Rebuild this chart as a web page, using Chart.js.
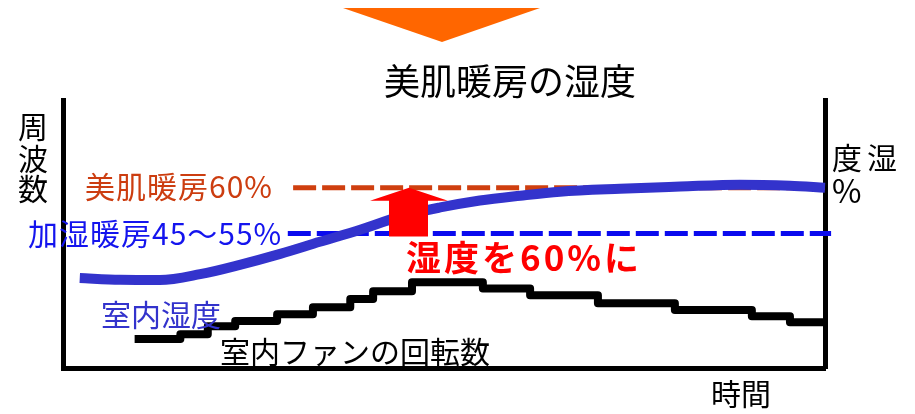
<!DOCTYPE html>
<html lang="ja">

<head>
    <meta charset="UTF-8">
    <meta name="viewport" content="width=device-width, initial-scale=1.0">
    <script src="https://cdn.jsdelivr.net/npm/chart.js"></script>
    <title>美肌暖房の湿度</title>
    <style>
        html, body { margin: 0; padding: 0; background: #fff; }
    </style>
</head>

<body>
    <canvas id="humidityChart" width="915" height="414"></canvas>
    <script>
        // 横軸: 時間 (0〜100), 縦軸: 相対値 (0〜100)
        const humidityTime = [2.2, 7.5, 12.7, 18.0, 23.2, 28.5, 33.7, 39.0, 44.2, 49.5, 54.7, 60.0, 65.2, 73.1, 81.0, 88.8, 95.4, 100];
        const humidityValues = [33.6, 32.9, 32.8, 35.0, 38.5, 42.6, 47.1, 51.6, 56.5, 59.9, 62.5, 64.3, 65.8, 66.9, 67.7, 68.4, 68.0, 67.3];

        const fanTime = [9.4, 15.4, 19.0, 22.6, 28.1, 32.8, 37.7, 40.7, 45.8, 55.1, 61.3, 70.2, 80.3, 90.4, 95.4, 100.3];
        const fanValues = [10.8, 12.6, 15.6, 17.5, 20.1, 22.7, 25.7, 28.6, 32.0, 29.7, 27.1, 24.2, 21.6, 19.3, 17.1, 17.1];

        const bihadaTime = [30.2, 100];
        const bihadaLevel = [67.3, 67.3];
        const kashitsuTime = [29.5, 100.8];
        const kashitsuLevel = [50.2, 50.2];

        const FONT = '"Noto Sans CJK JP", "Noto Sans", sans-serif';

        function toPoints(xs, ys) {
            return xs.map((t, i) => ({ x: t, y: ys[i] }));
        }

        function label(ctx, str, px, py, size, color, align, weight, spacing) {
            ctx.font = (weight || 'normal') + ' ' + size + 'px ' + FONT;
            ctx.fillStyle = color;
            ctx.textAlign = align || 'left';
            ctx.textBaseline = 'middle';
            ctx.letterSpacing = spacing || '0px';
            ctx.fillText(str, px, py);
        }

        // 矢印・三角形・文字
        const overlay = {
            id: 'overlay',
            afterDatasetsDraw(chart) {
                const { ctx, scales: { y } } = chart;
                ctx.save();

                // 上の三角
                ctx.fillStyle = '#ff6600';
                ctx.beginPath();
                ctx.moveTo(343, 8);
                ctx.lineTo(540, 8);
                ctx.lineTo(442, 42);
                ctx.closePath();
                ctx.fill();

                // 赤い矢印 (45〜55% → 60%)
                const ax = 409;
                const top = y.getPixelForValue(bihadaLevel[0]);
                const bottom = y.getPixelForValue(kashitsuLevel[0]) + 3;
                ctx.fillStyle = '#ff0000';
                ctx.beginPath();
                ctx.moveTo(ax, top);
                ctx.lineTo(ax + 39, top + 13);
                ctx.lineTo(ax + 19, top + 13);
                ctx.lineTo(ax + 19, bottom);
                ctx.lineTo(ax - 20, bottom);
                ctx.lineTo(ax - 20, top + 13);
                ctx.lineTo(ax - 39, top + 13);
                ctx.closePath();
                ctx.fill();

                label(ctx, '美肌暖房の湿度', 510, 81, 36, '#000', 'center');

                label(ctx, '美肌暖房60%', 85, y.getPixelForValue(bihadaLevel[0]) - 1, 30, '#cc3d10', 'left', 'normal', '1px');
                label(ctx, '加湿暖房45～55%', 28, y.getPixelForValue(kashitsuLevel[0]), 30, '#1414ee', 'left', 'normal', '1px');
                label(ctx, '湿度を60%に', 406, 258, 35, '#ff0000', 'left', 'bold', '3px');
                label(ctx, '室内湿度', 101, 315, 30, '#3333cc');
                label(ctx, '室内ファンの回転数', 220, 352, 30, '#000');
                label(ctx, '時間', 711, 394, 30, '#000');

                label(ctx, '周', 33, 127, 30, '#000', 'center');
                label(ctx, '波', 33, 159, 30, '#000', 'center');
                label(ctx, '数', 33, 189, 30, '#000', 'center');

                label(ctx, '度', 847, 158, 30, '#000', 'center');
                label(ctx, '湿', 882, 158, 30, '#000', 'center');
                label(ctx, '%', 832, 191, 32, '#000');

                ctx.restore();
            }
        };

        const frameAxis = {
            display: true,
            min: 0,
            max: 100,
            grid: { display: false, drawTicks: false },
            ticks: { display: false },
            border: { display: true, color: '#000', width: 5 }
        };

        new Chart(document.getElementById('humidityChart'), {
            type: 'line',
            data: {
                datasets: [{
                    label: '室内湿度',
                    data: toPoints(humidityTime, humidityValues),
                    borderColor: '#3333cc',
                    borderWidth: 10,
                    cubicInterpolationMode: 'monotone',
                    pointRadius: 0,
                    clip: false
                }, {
                    label: '室内ファンの回転数',
                    data: toPoints(fanTime, fanValues),
                    borderColor: '#000',
                    borderWidth: 8,
                    stepped: 'before',
                    borderJoinStyle: 'round',
                    pointRadius: 0,
                    clip: false
                }, {
                    label: '美肌暖房60%',
                    data: toPoints(bihadaTime, bihadaLevel),
                    borderColor: '#cf3f0f',
                    borderWidth: 5,
                    borderDash: [23, 6],
                    pointRadius: 0,
                    clip: false
                }, {
                    label: '加湿暖房45～55%',
                    data: toPoints(kashitsuTime, kashitsuLevel),
                    borderColor: '#0a0aee',
                    borderWidth: 5,
                    borderDash: [23, 6],
                    pointRadius: 0,
                    clip: false
                }]
            },
            options: {
                responsive: false,
                animation: false,
                layout: { padding: { left: 63, right: 90, top: 100, bottom: 46 } },
                plugins: {
                    legend: { display: false },
                    tooltip: { enabled: false }
                },
                scales: {
                    x: Object.assign({ type: 'linear', position: 'bottom' }, frameAxis),
                    y: Object.assign({ position: 'left' }, frameAxis),
                    y2: Object.assign({ position: 'right' }, frameAxis)
                }
            },
            plugins: [overlay]
        });
    </script>
</body>

</html>
